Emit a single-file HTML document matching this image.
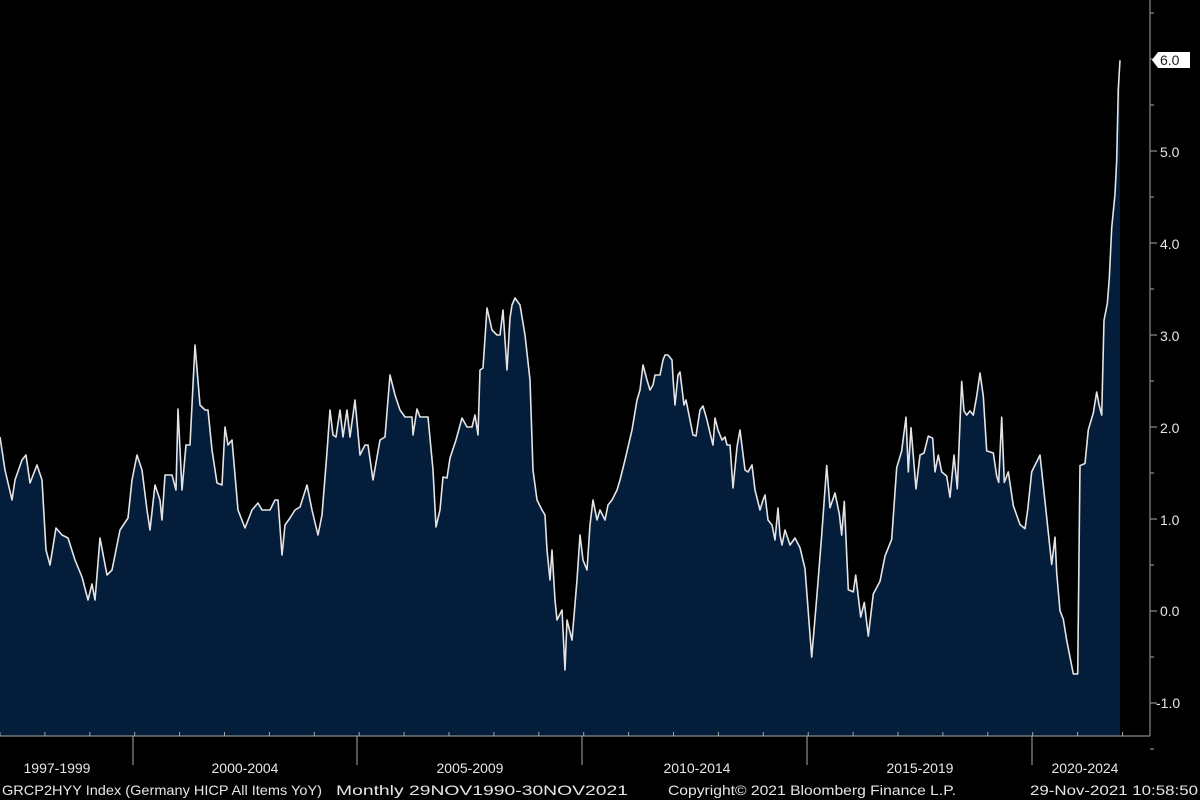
<!DOCTYPE html>
<html><head><meta charset="utf-8"><style>
html,body{margin:0;padding:0;background:#000;}
svg{display:block}
text{font-family:"Liberation Sans",sans-serif;fill:#e6e6e6;}
</style></head><body>
<svg id="s" width="1200" height="800" viewBox="0 0 1200 800">
<rect width="1200" height="800" fill="#000"/>
<path id="area" fill="#031d3b"/>
<polyline id="line" fill="none" stroke="#e4e4e4" stroke-width="1.6" stroke-linejoin="round"/>
<line x1="0" y1="736" x2="1150" y2="736" stroke="#888" stroke-width="1.2"/>
<line x1="1150" y1="0" x2="1150" y2="736" stroke="#888" stroke-width="1.2"/>
<g id="ticks" stroke="#aaa" stroke-width="1"></g>
<g font-size="14">
<text x="1160" y="157">5.0</text>
<text x="1160" y="249">4.0</text>
<text x="1160" y="341">3.0</text>
<text x="1160" y="433">2.0</text>
<text x="1160" y="525">1.0</text>
<text x="1160" y="616">0.0</text>
<text x="1156" y="708">-1.0</text>
</g>
<path d="M1152 60 L1158 52 L1190 52 L1190 68 L1158 68 Z" fill="#fff"/>
<text x="1160" y="65" font-size="14" style="fill:#222">6.0</text>
<g font-size="14" text-anchor="middle">
<text x="57" y="773">1997-1999</text>
<text x="245" y="773">2000-2004</text>
<text x="470" y="773">2005-2009</text>
<text x="697" y="773">2010-2014</text>
<text x="920" y="773">2015-2019</text>
<text x="1085" y="773">2020-2024</text>
</g>
<g font-size="14">
<text x="2" y="795" textLength="320" lengthAdjust="spacingAndGlyphs">GRCP2HYY Index (Germany HICP All Items YoY)</text>
<text x="336" y="795" textLength="292" lengthAdjust="spacingAndGlyphs">Monthly 29NOV1990-30NOV2021</text>
<text x="668" y="795" textLength="288" lengthAdjust="spacingAndGlyphs">Copyright© 2021 Bloomberg Finance L.P.</text>
<text x="1030" y="795" textLength="168" lengthAdjust="spacingAndGlyphs">29-Nov-2021 10:58:50</text>
</g>
</svg>
<script>
var p1=[[0,437],[5,470],[12,500],[15,480],[22,460],[26,455],[30,483],[37,465],[42,480],[46,550],[50,565],[56,528],[62,535],[68,538],[75,560],[82,577],[88,600],[92,584],[95,600],[100,538],[107,575],[112,570],[120,530],[128,518],[132,480],[137,455],[142,470],[147,510],[150,530],[155,485],[160,500],[162,520],[165,475],[172,475],[176,490],[178,409],[182,490],[186,445],[190,445],[195,345],[200,405],[205,410],[208,410],[212,450],[217,483],[222,485],[225,427],[228,445],[232,440],[238,510],[245,528],[252,510],[258,503],[262,510],[270,510],[275,500],[278,500],[282,555],[285,525],[290,518],[295,510],[300,507],[307,485],[312,510],[318,535],[322,515],[327,452],[330,410],[333,435],[336,437],[340,410],[343,437],[347,410],[350,437],[355,400],[360,455],[365,445],[368,445],[373,480],[380,440],[385,437],[390,375],[395,395],[400,410],
[405,417],[412,417],[413,435],[417,409],[420,417],[428,417],[433,470],[436,527],[440,510],[443,477],[447,478],[450,458],[456,440],[462,418],[467,427],[472,427],[475,415],[478,435],[480,370],[483,368],[487,308],[492,330],[497,335],[500,335],[503,310],[507,370],[510,318],[512,305],[515,298],[520,305],[525,335],[530,380],[533,470],[537,500],[542,510],[545,515],[547,550],[550,580],[552,550],[555,600],[557,620],[562,610],[565,670],[567,620],[572,640],[577,580],[580,535],[583,560],[587,570],[590,525],[593,500],[597,520],[600,510],[605,520],[608,505],[612,500],[617,490],[620,480],[625,460],[632,430],[637,400],[640,390],[643,365],[647,380],[650,390],[653,385],[655,375],[660,375],[663,360],[665,355],[668,355],[672,360],[673,378],[675,405],[678,375],[680,372],[684,405],[686,400],[690,420],[693,435],[696,436],[700,410],[703,406],[707,420],[710,433],[713,445],[715,418],[718,430],[722,440],[725,437],[727,445],[730,445],[733,488],[737,447],[740,430],[745,470],[748,472],[752,465],[755,490],[760,510],[763,500],[765,495],[768,520],[772,525],[775,540],[778,508],[780,535],[782,545],[785,530],[790,545],[795,538]];
var z3=[[0,1230],[15,1280],[35,1490],[50,1350],[65,1200],[80,1035],[90,1135],[105,1100],[118,1150],[125,1200],[133,1120],[145,1330],[160,1335],[167,1295],[182,1395],[193,1360],[205,1440],[220,1340],[240,1310],[255,1250],[275,1210],[290,1040],[305,1000],[318,920],[325,1050],[333,945],[348,1090],[360,1010],[372,1005],[385,965],[398,970],[405,1050],[415,1010],[425,1050],[440,1060],[450,1110],[462,1010],[472,1090],[485,835],[492,905],[500,915],[510,905],[520,915],[530,870],[540,815],[550,870],[560,1000],[580,1005],[590,1060],[596,1075],[605,920],[613,1075],[625,1050],[640,1130],[660,1175],[675,1185],[683,1140],[695,1050],[720,1010],[735,1120],[755,1270],[765,1205],[770,1290],[780,1380],[790,1400],[800,1450],[820,1530],[833,1530],[840,1035],[855,1030],[865,950],[880,910],[890,860],[897,890],[905,915],[912,690],[922,650],[928,590],[935,470],[945,390],[950,310],[955,140],[960,72]];
z3.forEach(function(q){p1.push([800+q[0]/3,30+q[1]/2.376]);});
var pts=p1.map(function(q){return q[0].toFixed(1)+","+q[1].toFixed(1);}).join(" ");
document.getElementById("line").setAttribute("points",pts);
var last=p1[p1.length-1];
document.getElementById("area").setAttribute("d","M0,736 L"+pts.replace(/ /g," L")+" L"+last[0]+",736 Z");
var g=document.getElementById("ticks"),h="";
for(var v=-1.5;v<=6.5;v+=0.5){var y=611-92*v;h+='<line x1="1150" y1="'+y+'" x2="'+(Math.abs(v%1)<0.01?1157:1154)+'" y2="'+y+'"/>';}
[133,357,582,807,1032].forEach(function(x){h+='<line x1="'+x+'" y1="736" x2="'+x+'" y2="765"/>';});
for(var k=0;k<26;k++){var x=k*44.9;h+='<line x1="'+x+'" y1="736" x2="'+x+'" y2="732"/>';}
g.innerHTML=h;
</script>
</body></html>
